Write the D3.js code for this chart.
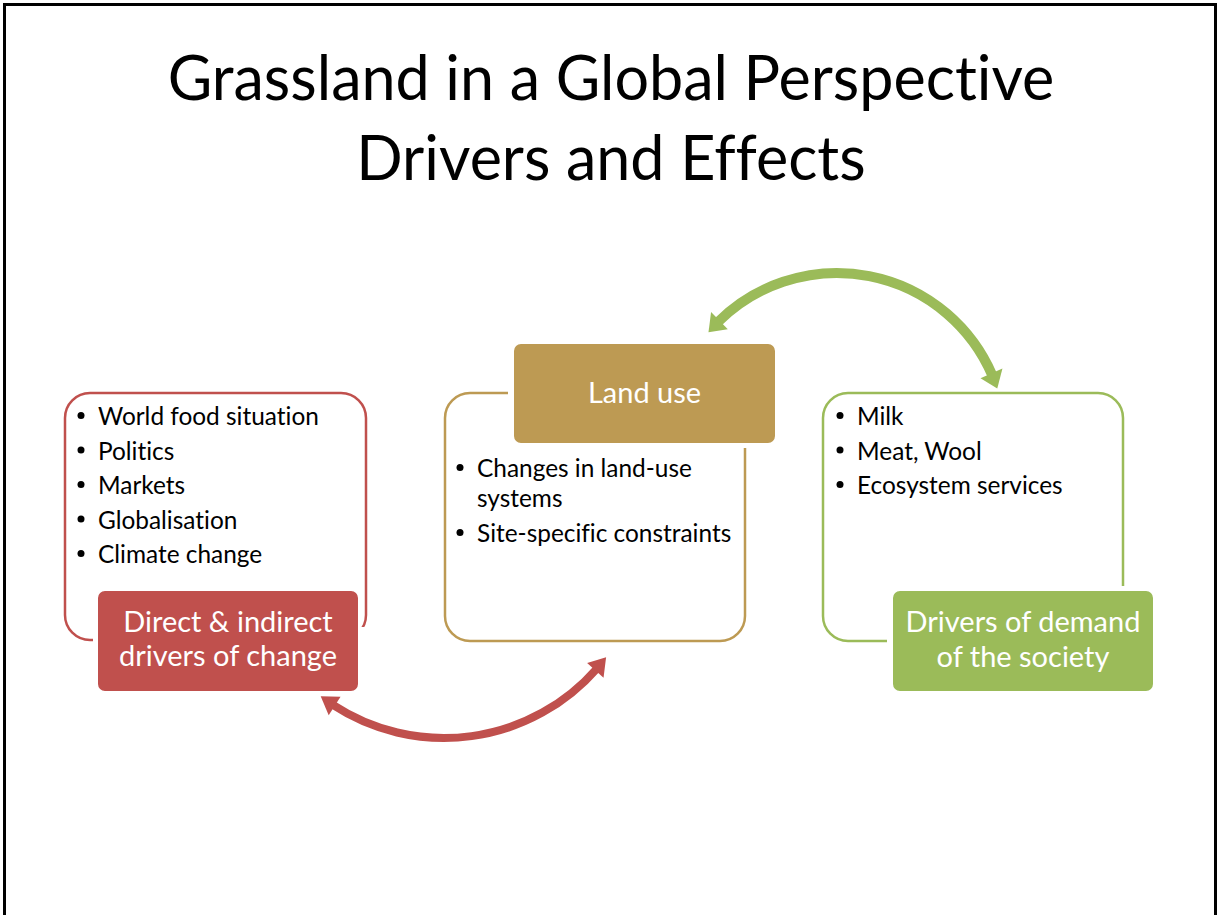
<!DOCTYPE html>
<html><head><meta charset="utf-8">
<script src="https://cdn.jsdelivr.net/npm/d3@7"></script>
<style>html,body{margin:0;padding:0;background:#fff;overflow:hidden} text{font-variant-ligatures:none;font-feature-settings:"liga" 0,"clig" 0}</style>
</head><body>
<svg id="c" width="1218" height="915"></svg>
<script>
// ---- content ----
const titleLines = ["Grassland in a Global Perspective", "Drivers and Effects"];
const groupKeys = ["drivers", "landuse", "demand"];
const groupLabels = [["Direct & indirect", "drivers of change"], ["Land use"], ["Drivers of demand", "of the society"]];
const groupColors = ["#c0504d", "#bd9a53", "#9bbb59"];
const bulletsDrivers = [["World food situation"], ["Politics"], ["Markets"], ["Globalisation"], ["Climate change"]];
const bulletsLand = [["Changes in land-use", "systems"], ["Site-specific constraints"]];
const bulletsDemand = [["Milk"], ["Meat, Wool"], ["Ecosystem services"]];
const groupBullets = [bulletsDrivers, bulletsLand, bulletsDemand];

// ---- layout ----
const FONT = "Lato, 'Open Sans', sans-serif";
const layout = {
  drivers: {outline: [65, 393, 366, 640], mask: [93, 627, 370, 696], fill: [97, 590, 359, 692],
            labelX: 228, labelY: [632, 666], bulletX: 81, textX: 98, bulletY: [425, 459.5, 494, 528.5, 563], lineGap: 30},
  landuse: {outline: [445, 393, 745, 641], mask: [508, 338, 780, 448], fill: [513, 343, 776, 444],
            labelX: 644.5, labelY: [403], bulletX: 460, textX: 477, bulletY: [477, 542], lineGap: 30},
  demand:  {outline: [823, 393, 1123, 641], mask: [887, 586, 1158, 696], fill: [892, 590, 1154, 692],
            labelX: 1023, labelY: [632, 667], bulletX: 840, textX: 857, bulletY: [425, 459.5, 494], lineGap: 30}
};
const arrows = [
  {color: "#c0504d", cx: 444, cy: 535, r: 203, a0: 127.4, a1: 37, w: 8, hl: 17, hh: 11},
  {color: "#9bbb59", cx: 837, cy: 442, r: 169, a0: -139.5, a1: -18.5, w: 10, hl: 16, hh: 12}
];

const svg = d3.select("#c");

function measure(text, size) {
  const t = svg.append("text").attr("font-family", FONT).attr("font-size", size).text(text);
  const w = t.node().getComputedTextLength();
  t.remove();
  return w;
}
function fit(text, target) { return 40 * target / measure(text, 40); }

// slide frame
svg.append("rect").attr("x", 4.5).attr("y", 4.5).attr("width", 1211).attr("height", 1000)
  .attr("fill", "#fff").attr("stroke", "#000").attr("stroke-width", 3);

// title
const tSize = (fit(titleLines[0], 900) + fit(titleLines[1], 502)) / 2;
svg.selectAll("text.title").data(titleLines).join("text").attr("class", "title")
  .attr("x", 611).attr("y", (d, i) => 100 + i * 80)
  .attr("text-anchor", "middle").attr("font-family", FONT).attr("font-size", tSize)
  .attr("fill", "#000").text(d => d);

const bSize = (fit("World food situation", 223) + fit("Ecosystem services", 205) + fit("Site-specific constraints", 253)) / 3;
const lSize = (fit("Drivers of demand", 237) + fit("Direct & indirect", 210) + fit("Land use", 112)) / 3;

const gOutline = svg.append("g"), gMask = svg.append("g"), gArrow = svg.append("g"), gFill = svg.append("g"), gText = svg.append("g");

groupKeys.forEach((k, gi) => {
  const L = layout[k], col = groupColors[gi];
  const [x0, y0, x1, y1] = L.outline;
  gOutline.append("rect").attr("x", x0).attr("y", y0).attr("width", x1 - x0).attr("height", y1 - y0)
    .attr("rx", 25).attr("fill", "#fff").attr("stroke", col).attr("stroke-width", 2.5);
  const [mx0, my0, mx1, my1] = L.mask;
  gMask.append("rect").attr("x", mx0).attr("y", my0).attr("width", mx1 - mx0).attr("height", my1 - my0).attr("fill", "#fff");
  const [fx0, fy0, fx1, fy1] = L.fill;
  gFill.append("rect").attr("x", fx0).attr("y", fy0).attr("width", fx1 - fx0).attr("height", fy1 - fy0)
    .attr("rx", 8).attr("fill", col).attr("stroke", "#fff").attr("stroke-width", 2);
  gText.selectAll("text.lab" + gi).data(groupLabels[gi]).join("text").attr("class", "lab" + gi)
    .attr("x", L.labelX).attr("y", (d, i) => L.labelY[i]).attr("text-anchor", "middle")
    .attr("font-family", FONT).attr("font-size", lSize).attr("fill", "#fff").text(d => d);
  groupBullets[gi].forEach((lines, bi) => {
    const by = L.bulletY[bi];
    gText.append("circle").attr("cx", L.bulletX).attr("cy", by - 9.5).attr("r", 3.5).attr("fill", "#000");
    lines.forEach((ln, li) => {
      gText.append("text").attr("x", L.textX).attr("y", by + li * L.lineGap)
        .attr("font-family", FONT).attr("font-size", bSize).attr("fill", "#000").text(ln);
    });
  });
});

// curved double-headed arrows
const rad = Math.PI / 180;
arrows.forEach(A => {
  const dir = Math.sign(A.a1 - A.a0);
  const dl = A.hl / A.r;
  const s = A.a0 * rad + dir * dl, e = A.a1 * rad - dir * dl;
  const p = d3.path();
  p.arc(A.cx, A.cy, A.r, s - dir * 0.01, e + dir * 0.01, dir < 0);
  gArrow.append("path").attr("d", p.toString()).attr("fill", "none")
    .attr("stroke", A.color).attr("stroke-width", A.w);
  [[A.a0 * rad, s], [A.a1 * rad, e]].forEach(([ta, ba]) => {
    const pts = [
      [A.cx + A.r * Math.cos(ta), A.cy + A.r * Math.sin(ta)],
      [A.cx + (A.r + A.hh) * Math.cos(ba), A.cy + (A.r + A.hh) * Math.sin(ba)],
      [A.cx + (A.r - A.hh) * Math.cos(ba), A.cy + (A.r - A.hh) * Math.sin(ba)]
    ];
    gArrow.append("path").attr("d", d3.line()(pts) + "Z").attr("fill", A.color);
  });
});
</script>
</body></html>
